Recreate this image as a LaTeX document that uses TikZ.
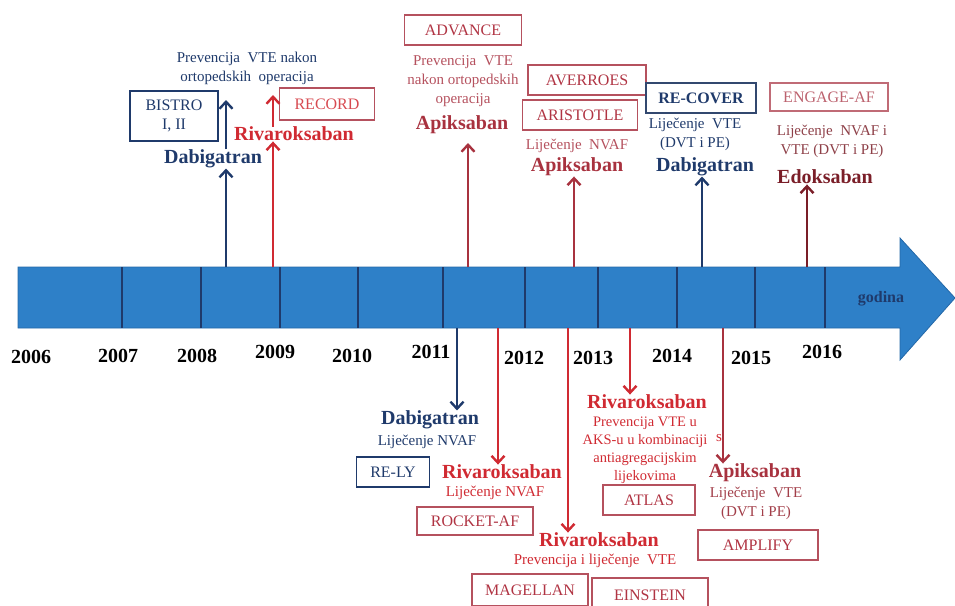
\documentclass[tikz,border=0pt]{standalone}
\usepackage{fontspec}
\setmainfont{Liberation Serif}
\usetikzlibrary{arrows.meta}

\definecolor{navy}{HTML}{1F3A6B}
\definecolor{rivared}{HTML}{D02A32}
\definecolor{apired}{HTML}{A8323F}
\definecolor{boxred}{HTML}{B5515E}
\definecolor{trialred}{HTML}{B03443}
\definecolor{edomaroon}{HTML}{7A1E28}
\definecolor{barblue}{HTML}{2E80C8}
\definecolor{barline}{HTML}{2468A8}

\begin{document}
\begin{tikzpicture}[x=1pt,y=-1pt,thick,
    drug node/.style={inner sep=0pt,font=\fontsize{20}{24}\selectfont\bfseries},
    note node/.style={inner sep=0pt,align=center,font=\fontsize{15}{19}\selectfont},
    trial node/.style={draw,line width=1.2pt,inner sep=0pt,align=center,font=\fontsize{16}{19}\selectfont},
    year node/.style={inner sep=0pt,font=\fontsize{20}{24}\selectfont\bfseries},
    tick line/.style={draw=navy,line width=1.5pt},
    up arrow/.style={line width=2.4pt,-{Straight Barb[length=7pt,width=13pt]}},
    navy arrow/.style={up arrow,navy},
    riva arrow/.style={up arrow,rivared},
    api arrow/.style={up arrow,apired},
    edo arrow/.style={up arrow,edomaroon}]
    \useasboundingbox (0,0) rectangle (955,605);
    \clip (0,0) rectangle (955,605);

    % time bar
    \draw[fill=barblue,draw=barline,line width=0.8pt]
        (18,267) -- (900,267) -- (900,238) -- (955,298) -- (900,360) -- (900,328) -- (18,328) -- cycle;
    \foreach \x in {122,201,280,358,443,525,598,677,755,825}
        \draw[tick line] (\x,267) -- (\x,328);
    \node[inner sep=0pt,font=\fontsize{16}{18}\selectfont\bfseries,text=navy] (godina) at (881,299) {godina};

    \foreach \x/\y/\yr in {31/357/2006,118/356/2007,197/356/2008,275/352/2009,352/356/2010,
                           431/352/2011,524/358/2012,593/358/2013,672/356/2014,751/358/2015,822/352/2016}
        \node[year node] (y\yr) at (\x,\y) {\yr};

    % points on the bar
    \coordinate (t08) at (226,267);
    \coordinate (t09) at (273,267);
    \coordinate (t11) at (468,267);
    \coordinate (t13) at (574,267);
    \coordinate (t14) at (702,267);
    \coordinate (t15) at (807,267);
    \coordinate (b11) at (457,328);
    \coordinate (b12) at (498,328);
    \coordinate (b13) at (568,328);
    \coordinate (b14) at (630,328);
    \coordinate (b15) at (723,328);

    % above the bar
    \node[note node,text=navy] (prev08) at (247,68) {Prevencija\ \ VTE nakon\\ortopedskih\ \ operacija};
    \node[trial node,draw=navy,text=navy,minimum width=88,minimum height=50] (bistro) at (174,116) {BISTRO\\I, II};
    \node[trial node,draw=boxred,text=rivared!85!white,minimum width=95,minimum height=32] (record) at (327,104) {RECORD};
    \node[drug node,text=rivared] (riva09) at (294,134) {Rivaroksaban};
    \node[drug node,text=navy] (dab08) at (213,159) {Dabigatran};
    \coordinate (top08) at (226,100);
    \coordinate (top09) at (273,95);

    \node[trial node,draw=boxred,text=trialred,minimum width=117,minimum height=30] (advance) at (463,30) {ADVANCE};
    \node[note node,text=boxred] (prev11) at (463,81) {Prevencija\ \ VTE\\nakon ortopedskih\\operacija};
    \node[drug node,text=apired] (api11) at (462,125) {Apiksaban};
    \coordinate (top11) at (468,143);

    \node[trial node,draw=boxred,text=trialred,minimum width=118,minimum height=30] (averroes) at (587,80) {AVERROES};
    \node[trial node,draw=boxred,text=trialred,minimum width=115,minimum height=30] (aristotle) at (580,115) {ARISTOTLE};
    \node[note node,text=boxred] (lij13) at (577,146) {Liječenje\ \ NVAF};
    \node[drug node,text=apired] (api13) at (577,167) {Apiksaban};

    \node[trial node,draw=navy!80!gray,text=navy,font=\fontsize{16}{19}\selectfont\bfseries,minimum width=110,minimum height=30] (recover) at (701,98) {RE-COVER};
    \node[note node,text=navy] (lij14) at (695,134) {Liječenje\ \ VTE\\(DVT i PE)};
    \node[drug node,text=navy] (dab14) at (705,167) {Dabigatran};

    \node[trial node,draw=boxred!85!white,text=boxred!90!white,minimum width=118,minimum height=28] (engage) at (829,97) {ENGAGE-AF};
    \node[note node,text=edomaroon!85!white] (lij15) at (832,141) {Liječenje\ \ NVAF i\\VTE (DVT i PE)};
    \node[drug node,text=edomaroon] (edo15) at (825,177) {Edoksaban};

    % below the bar
    \node[drug node,text=navy] (dab11) at (430,420) {Dabigatran};
    \node[note node,text=navy] (lij11) at (427,442) {Liječenje NVAF};
    \node[trial node,draw=navy,text=navy,minimum width=73,minimum height=30] (rely) at (393,472) {RE-LY};

    \node[drug node,text=rivared] (riva12) at (502,472) {Rivaroksaban};
    \node[note node,text=rivared] (lij12) at (495,493) {Liječenje NVAF};
    \node[trial node,draw=boxred,text=trialred,minimum width=116,minimum height=28] (rocket) at (475,521) {ROCKET-AF};

    \node[drug node,text=rivared] (riva13) at (599,540) {Rivaroksaban};
    \node[note node,text=rivared] (prev13) at (595,561) {Prevencija i liječenje\ \ VTE};
    \node[trial node,draw=boxred,text=trialred,minimum width=116,minimum height=32] (magellan) at (530,590) {MAGELLAN};
    \node[trial node,draw=boxred,text=trialred,minimum width=116,minimum height=34] (einstein) at (650,595) {EINSTEIN};

    \node[drug node,text=rivared] (riva14) at (647,402) {Rivaroksaban};
    \node[note node,text=rivared,font=\fontsize{14.5}{18}\selectfont] (prev14) at (645,450) {Prevencija VTE u\\AKS-u u kombinaciji\\antiagregacijskim\\lijekovima};
    \node[note node,text=rivared] (s14) at (719,438) {s};
    \node[trial node,draw=boxred,text=trialred,minimum width=92,minimum height=30] (atlas) at (649,500) {ATLAS};

    \node[drug node,text=apired] (api15) at (755,473) {Apiksaban};
    \node[note node,text=apired!85!gray] (lij15b) at (756,503) {Liječenje\ \ VTE\\(DVT i PE)};
    \node[trial node,draw=boxred,text=trialred,minimum width=120,minimum height=30] (amplify) at (758,545) {AMPLIFY};

    \path
        (t08) edge[navy arrow] (t08 |- dab08.south)
        (t08 |- dab08.north) edge[navy arrow] (top08)
        (t09) edge[riva arrow] (t09 |- riva09.south)
        (t09 |- riva09.north) edge[riva arrow] (top09)
        (t11) edge[api arrow] (top11)
        (t13) edge[api arrow] (t13 |- api13.south)
        (t14) edge[navy arrow] (t14 |- dab14.south)
        (t15) edge[edo arrow] (t15 |- edo15.south)
        (b11) edge[navy arrow] (b11 |- dab11.north)
        (b12) edge[riva arrow] (b12 |- riva12.north)
        (b13) edge[riva arrow] (b13 |- riva13.north)
        (b14) edge[riva arrow] (b14 |- riva14.north)
        (b15) edge[api arrow] (b15 |- api15.north)
        ;
\end{tikzpicture}
\end{document}
